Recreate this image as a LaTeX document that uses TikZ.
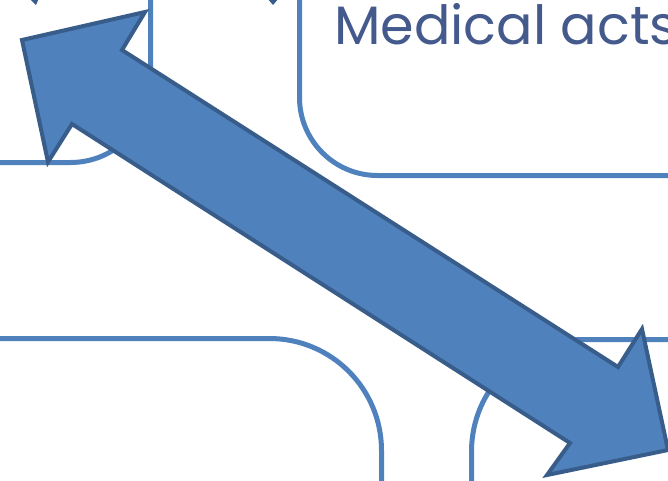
\documentclass[tikz,border=0pt]{standalone}
\usepackage{fontspec}
\setmainfont{Poppins}
\definecolor{boxblue}{HTML}{4F81BD}
\definecolor{arrowedge}{HTML}{385D8A}
\definecolor{labelblue}{HTML}{455A8C}
\tikzset{
  panel/.style={draw=boxblue, line width=5pt, rectangle, inner sep=0pt},
  bigarrow/.style={fill=boxblue, draw=arrowedge, line width=4pt, line join=miter},
}
\begin{document}
\begin{tikzpicture}[x=1pt, y=-1pt, >=stealth]
\useasboundingbox (0,0) rectangle (668,480);
\clip (0,0) rectangle (668,480);
\node[panel, rounded corners=80pt, minimum width=300pt, minimum height=300pt, anchor=south east] (consult) at (153,165) {};
\node[panel, rounded corners=78pt, minimum width=500pt, minimum height=300pt, anchor=south west] (acts) at (297,178) {};
\node[panel, rounded corners=112pt, minimum width=500pt, minimum height=300pt, anchor=north east] (records) at (384,336) {};
\node[panel, rounded corners=112pt, minimum width=400pt, minimum height=300pt, anchor=north west] (billing) at (469,337) {};
\node[anchor=base west, inner sep=0pt, text=labelblue, font=\fontsize{54}{60}\selectfont] (actslabel) at (334,44) {Medical acts};
% tips of the arrows above
\fill[arrowedge] (29,-2) -- (39,-2) -- (36,5) -- cycle;
\fill[arrowedge] (267,-2) -- (279,-2) -- (273,5) -- cycle;
% double arrow between the panels
\draw[bigarrow] (22,40) -- (145,12) -- (122,50) -- (618,367) -- (642,329) -- (668,450)
  -- (547,475) -- (570,443) -- (72,124) -- (48,162) -- cycle;
\end{tikzpicture}
\end{document}
